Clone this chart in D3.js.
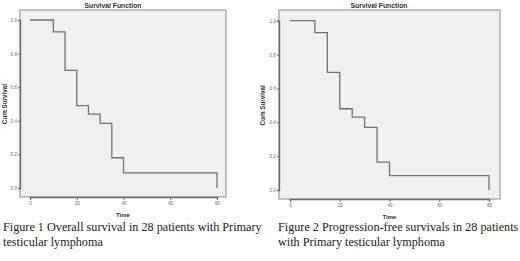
<!DOCTYPE html>
<html><head><meta charset="utf-8">
<script src="https://cdn.jsdelivr.net/npm/d3@7"></script>
<style>body{margin:0;background:#fff;}svg{display:block;}</style>
</head><body>
<svg id="c" width="520" height="261"></svg>
<script>
const times = [0, 10, 15, 20, 25, 30, 35, 40, 80];
const overallSurvival = [1.0, 0.929, 0.70, 0.49, 0.44, 0.385, 0.18, 0.09, 0.0];
const pfSurvival = [1.0, 0.929, 0.695, 0.48, 0.43, 0.37, 0.165, 0.085, 0.0];
const xTicks = [0, 20, 40, 60, 80];
const yTicks = [0.0, 0.2, 0.4, 0.6, 0.8, 1.0];
const chartTitle = "Survival Function";
const xLabel = "Time";
const yLabel = "Cum Survival";
const captions = [
  ["Figure 1 Overall survival in 28 patients with Primary", "testicular lymphoma"],
  ["Figure 2 Progression-free survivals in 28 patients", "with Primary testicular lymphoma"]
];

const svg = d3.select("#c");

function panel(cfg, surv) {
  const g = svg.append("g");
  const x = d3.scaleLinear().domain([0, 80]).range([cfg.x0, cfg.x80]);
  const y = d3.scaleLinear().domain([0, 1]).range([cfg.y0, cfg.y1]);
  g.append("rect").attr("x", cfg.left).attr("y", cfg.top)
    .attr("width", cfg.right - cfg.left).attr("height", cfg.bottom - cfg.top)
    .attr("fill", "#f0f0f0").attr("stroke", "#b4b4b4").attr("stroke-width", 1.6);
  const ya = g.append("g").attr("transform", `translate(${cfg.left},0)`)
    .call(d3.axisLeft(y).tickValues(yTicks).tickFormat(d3.format(".1f")).tickSize(2).tickPadding(1));
  const xa = g.append("g").attr("transform", `translate(0,${cfg.bottom})`)
    .call(d3.axisBottom(x).tickValues(xTicks).tickFormat(d3.format("d")).tickSize(3).tickPadding(2));
  [ya, xa].forEach(a => {
    a.select(".domain").attr("stroke", "#6a6a6a").attr("stroke-width", 1.4);
    a.selectAll(".tick line").attr("stroke", "#6a6a6a");
    a.selectAll(".tick text").attr("fill", "#666").attr("font-size", 4.6).attr("font-family", "Liberation Sans, Arial, sans-serif");
  });
  const line = d3.line().x((d, i) => x(times[i])).y(d => y(d)).curve(d3.curveStepAfter);
  g.append("path").datum(surv).attr("d", line).attr("fill", "none")
    .attr("stroke", "#727272").attr("stroke-width", 1.3);
  g.append("text").attr("x", cfg.titleX).attr("y", 7.5).attr("text-anchor", "middle")
    .attr("font-family", "Liberation Sans, Arial, sans-serif").attr("font-weight", "bold")
    .attr("font-size", 6.8).attr("fill", "#333").text(chartTitle);
  g.append("text").attr("x", (cfg.left + cfg.right) / 2).attr("y", cfg.timeY).attr("text-anchor", "middle")
    .attr("font-family", "Liberation Sans, Arial, sans-serif").attr("font-weight", "bold")
    .attr("font-size", 6).attr("fill", "#333").text(xLabel);
  g.append("text").attr("transform", `translate(${cfg.ylabX},${(cfg.y0 + cfg.y1) / 2}) rotate(-90)`)
    .attr("text-anchor", "middle")
    .attr("font-family", "Liberation Sans, Arial, sans-serif").attr("font-weight", "bold")
    .attr("font-size", 6.3).attr("fill", "#333").text(yLabel);
  const t = g.append("text").attr("font-family", "Liberation Serif, Times New Roman, serif")
    .attr("font-size", 12.2).attr("fill", "#1a1a1a");
  cfg.caption.forEach((s, i) => {
    t.append("tspan").attr("x", cfg.capX).attr("y", 231 + i * 15).text(s);
  });
}

panel({left: 20, right: 226, top: 10, bottom: 197, x0: 30, x80: 217, y0: 188, y1: 20,
       titleX: 113, timeY: 217, ylabX: 7, capX: 3, caption: captions[0]}, overallSurvival);
panel({left: 279, right: 500, top: 10, bottom: 199, x0: 290, x80: 489, y0: 190, y1: 20.7,
       titleX: 379, timeY: 219, ylabX: 265, capX: 278, caption: captions[1]}, pfSurvival);
</script>
</body></html>
